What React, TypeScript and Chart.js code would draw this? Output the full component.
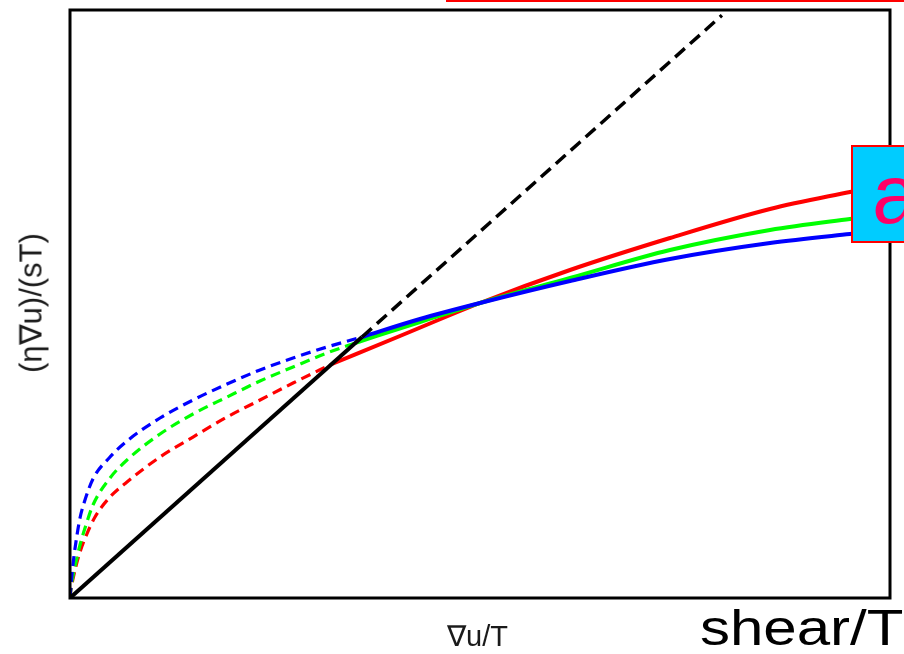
import React, { useEffect, useRef } from "react";
import { Chart, registerables } from "chart.js";

Chart.register(...registerables);

// ---- data (x = ∇u/T, y = (η∇u)/(sT), both normalised to the frame 0..1) ----
const blackSolidX = [0, 0.3561];
const blackSolidY = [0, 0.4439];
const blackDashedX = [0.3561, 0.795];
const blackDashedY = [0.4439, 0.991];

const redDashedX = [0, 0.00122, 0.00366, 0.00732, 0.0122, 0.0195, 0.0305, 0.0488, 0.0695, 0.1098, 0.15, 0.1915, 0.2317, 0.272, 0.3195];
const redDashedY = [0, 0.0153, 0.0323, 0.0544, 0.0782, 0.1054, 0.1378, 0.1718, 0.1973, 0.2398, 0.2738, 0.3078, 0.3367, 0.3656, 0.398];
const redSolidX = [0.3195, 0.4024, 0.5, 0.6098, 0.7317, 0.8537, 0.9512, 1.0];
const redSolidY = [0.398, 0.4456, 0.5017, 0.5578, 0.6122, 0.6616, 0.6905, 0.7041];

const greenDashedX = [0, 0.00122, 0.00366, 0.00732, 0.0122, 0.0195, 0.028, 0.0488, 0.0695, 0.1098, 0.15, 0.1915, 0.2317, 0.272, 0.3134, 0.3476];
const greenDashedY = [0, 0.017, 0.0374, 0.0612, 0.0901, 0.1241, 0.1582, 0.2041, 0.2347, 0.2789, 0.3129, 0.3418, 0.369, 0.3929, 0.4167, 0.4337];
const greenSolidX = [0.3476, 0.4268, 0.5, 0.6098, 0.7317, 0.8537, 0.9512, 1.0];
const greenSolidY = [0.4337, 0.4694, 0.5017, 0.5442, 0.5918, 0.6259, 0.6446, 0.6531];

const blueDashedX = [0, 0.00122, 0.00244, 0.00488, 0.00854, 0.0122, 0.0171, 0.028, 0.0488, 0.0695, 0.1098, 0.15, 0.1915, 0.2317, 0.272, 0.3134, 0.3561];
const blueDashedY = [0, 0.0221, 0.0408, 0.0714, 0.1071, 0.1361, 0.1616, 0.2024, 0.2398, 0.267, 0.3061, 0.3367, 0.3639, 0.3878, 0.4082, 0.4269, 0.4439];
const blueSolidX = [0.3561, 0.4268, 0.5, 0.6098, 0.7317, 0.8537, 0.9512, 1.0];
const blueSolidY = [0.4439, 0.4745, 0.5017, 0.5391, 0.5765, 0.6037, 0.619, 0.6259];

const xTitle = "∇u/T";
const yTitle = "(η∇u)/(sT)";
const bigLabel = "shear/T";
const boxLabel = "a";

const pts = (xs: number[], ys: number[]) => xs.map((x, i) => ({ x, y: ys[i] }));

const frame = {
  id: "frame",
  afterDatasetsDraw(chart: any) {
    const { ctx, chartArea } = chart;
    ctx.save();
    ctx.strokeStyle = "#000";
    ctx.lineWidth = 3;
    ctx.strokeRect(chartArea.left, chartArea.top, chartArea.right - chartArea.left, chartArea.bottom - chartArea.top);
    ctx.restore();
  },
};

export default function App() {
  const ref = useRef<HTMLCanvasElement>(null);

  useEffect(() => {
    if (!ref.current) return;
    const line = (data: any, color: string, width: number, dash: number[]) => ({
      data,
      borderColor: color,
      backgroundColor: color,
      borderWidth: width,
      borderDash: dash,
      pointRadius: 0,
      fill: false,
      cubicInterpolationMode: "monotone" as const,
    });
    const chart = new Chart(ref.current, {
      type: "line",
      data: {
        datasets: [
          line(pts(blackSolidX, blackSolidY), "#000000", 4, []),
          line(pts(blackDashedX, blackDashedY), "#000000", 3.5, [13, 7]),
          line(pts(blueSolidX, blueSolidY), "#0000ff", 4, []),
          line(pts(greenSolidX, greenSolidY), "#00ff00", 4, []),
          line(pts(redSolidX, redSolidY), "#ff0000", 4, []),
          line(pts(blueDashedX, blueDashedY), "#0000ff", 3.2, [10, 6]),
          line(pts(greenDashedX, greenDashedY), "#00ff00", 3.2, [10, 6]),
          line(pts(redDashedX, redDashedY), "#ff0000", 3.2, [10, 6]),
        ],
      },
      options: {
        animation: false,
        responsive: false,
        maintainAspectRatio: false,
        layout: { padding: { left: 70, right: 14, top: 10, bottom: 56 } },
        plugins: { legend: { display: false }, tooltip: { enabled: false } },
        scales: {
          x: { type: "linear", min: 0, max: 1, display: false },
          y: { type: "linear", min: 0, max: 1, display: false },
        },
      },
      plugins: [frame],
    });
    return () => chart.destroy();
  }, []);

  const font = '"Liberation Sans", Arial, sans-serif';

  return (
    <div style={{ position: "fixed", left: 0, top: 0, width: 904, height: 654, overflow: "hidden", background: "#fff" }}>
      <canvas ref={ref} width={904} height={654} style={{ position: "absolute", left: 0, top: 0 }} />
      <div style={{ position: "absolute", left: 446, top: 0, width: 470, height: 2, background: "#ff0000" }} />
      <div
        style={{
          position: "absolute",
          left: 31,
          top: 303,
          transform: "translate(-50%, -50%) rotate(-90deg)",
          fontFamily: font,
          fontSize: 31,
          lineHeight: "31px",
          color: "#1a1a1a",
          whiteSpace: "nowrap",
        }}
      >
        {yTitle}
      </div>
      <div
        style={{
          position: "absolute",
          left: 447,
          top: 622,
          fontFamily: font,
          fontSize: 29,
          lineHeight: "29px",
          color: "#1a1a1a",
          whiteSpace: "nowrap",
        }}
      >
        {xTitle}
      </div>
      <div
        style={{
          position: "absolute",
          left: 700,
          top: 603,
          fontFamily: font,
          fontSize: 50,
          lineHeight: "50px",
          color: "#000",
          whiteSpace: "nowrap",
          transform: "scaleX(1.2)",
          transformOrigin: "left top",
        }}
      >
        {bigLabel}
      </div>
      <div
        style={{
          position: "absolute",
          left: 851,
          top: 145,
          width: 70,
          height: 94,
          background: "#00ccff",
          border: "2px solid #ff0000",
          overflow: "hidden",
        }}
      >
        <div
          style={{
            position: "absolute",
            left: 19,
            top: 5,
            fontFamily: font,
            fontSize: 84,
            lineHeight: "84px",
            color: "#ff0066",
            whiteSpace: "nowrap",
          }}
        >
          {boxLabel}
        </div>
      </div>
    </div>
  );
}
